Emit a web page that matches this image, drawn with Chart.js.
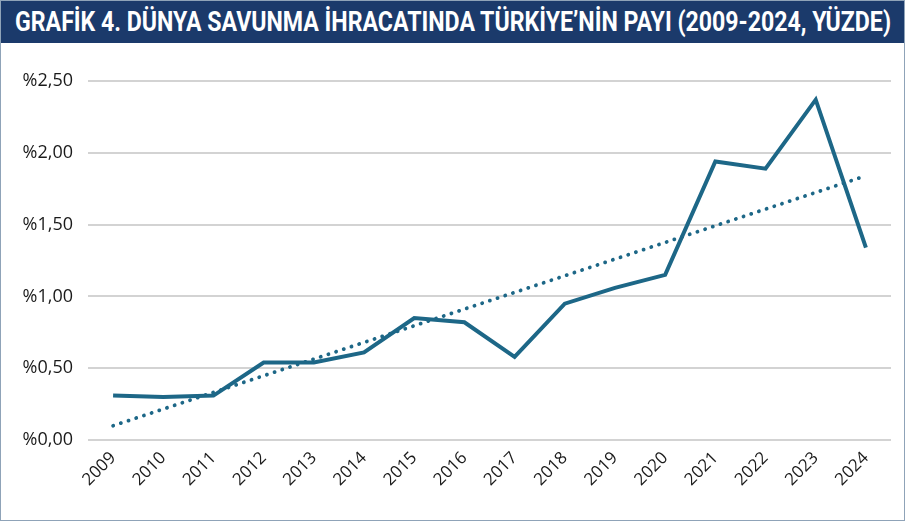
<!DOCTYPE html>
<html>
<head>
<meta charset="utf-8">
<script src="https://cdn.jsdelivr.net/npm/chart.js@4"></script>
<style>
  html, body { margin: 0; padding: 0; background: #fff; }
  #frame { position: relative; width: 903px; height: 519px; border: 1px solid #8fa3b8; overflow: hidden; }
  #title { height: 42px; background: #1b3a6b; overflow: hidden; position: relative; }
  #ttext { position: absolute; left: 14px; top: 4px; color: #fff; font-family: "Roboto", "DejaVu Sans", sans-serif; font-weight: bold; font-size: 27px; line-height: 34px; white-space: nowrap; transform-origin: 0 0; }
  #wrap { position: relative; width: 903px; height: 477px; }
</style>
</head>
<body>
<div id="frame">
  <div id="title"><span id="ttext">GRAFİK 4. DÜNYA SAVUNMA İHRACATINDA TÜRKİYE’NİN PAYI (2009-2024, YÜZDE)</span></div>
  <div id="wrap"><canvas id="c" width="903" height="477"></canvas></div>
</div>
<script>
const years = ["2009","2010","2011","2012","2013","2014","2015","2016","2017","2018","2019","2020","2021","2022","2023","2024"];
const share = [0.31, 0.30, 0.31, 0.54, 0.54, 0.61, 0.85, 0.82, 0.58, 0.95, 1.06, 1.15, 1.94, 1.89, 2.37, 1.34];
const trend = [0.10, null, null, null, null, null, null, null, null, null, null, null, null, null, null, 1.84];
const yTicks = [0, 0.5, 1.0, 1.5, 2.0, 2.5];

const fmt = v => "%" + v.toFixed(2).replace(".", ",");

const tt = document.getElementById("ttext");
const w = tt.getBoundingClientRect().width;
tt.style.transform = "scaleX(" + (876 / w) + ")";

new Chart(document.getElementById("c"), {
  type: "line",
  data: {
    labels: years,
    datasets: [
      { label: "Pay", data: share, borderColor: "#1d6787", borderWidth: 4, pointRadius: 0, tension: 0, fill: false, borderJoinStyle: "miter" },
      { label: "Trend", data: trend, spanGaps: true, borderColor: "#1d6787", borderWidth: 3.8, borderDash: [0.1, 8], borderCapStyle: "round", pointRadius: 0, fill: false }
    ]
  },
  options: {
    responsive: false,
    animation: false,
    devicePixelRatio: 1,
    layout: { padding: { left: 21, right: 13, top: 38, bottom: 22 } },
    plugins: { legend: { display: false }, tooltip: { enabled: false } },
    scales: {
      x: {
        offset: true,
        grid: { display: false, drawTicks: false },
        border: { display: false },
        afterFit: axis => { axis.paddingLeft = 0; },
        ticks: { autoSkip: false, maxRotation: 45, minRotation: 45, padding: 8, color: "#1a1a1a", font: { family: "Open Sans", size: 17 } }
      },
      y: {
        min: 0, max: 2.5,
        afterBuildTicks: axis => { axis.ticks = yTicks.map(v => ({ value: v })); },
        afterFit: axis => { axis.width = 66; },
        grid: { color: "#d3d3d3", lineWidth: 2, drawTicks: false },
        border: { display: false },
        ticks: { padding: 15, color: "#1a1a1a", font: { family: "Open Sans", size: 18 }, callback: v => fmt(v) }
      }
    }
  }
});
</script>
</body>
</html>
